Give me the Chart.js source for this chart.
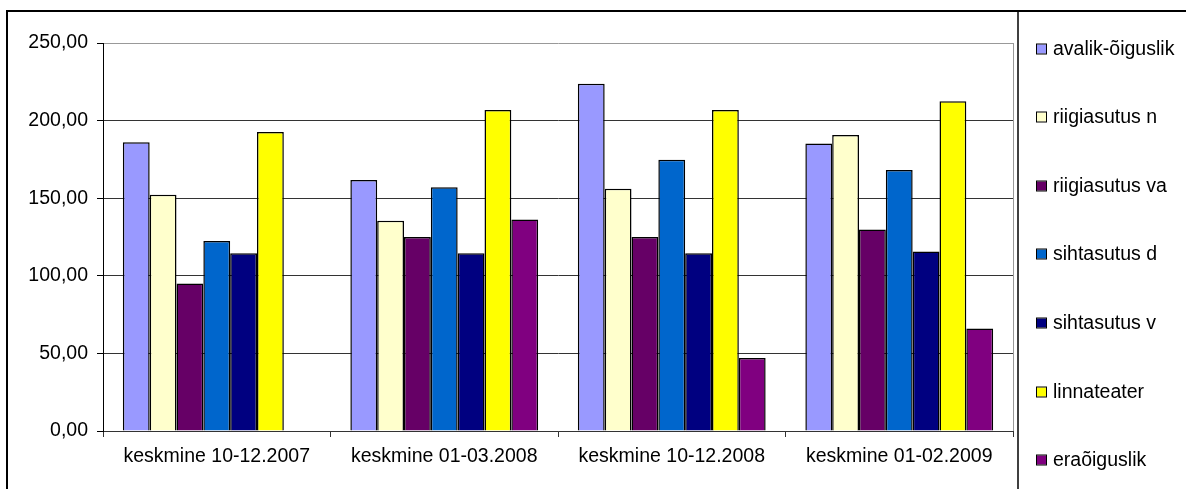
<!DOCTYPE html>
<html>
<head>
<meta charset="utf-8">
<script src="https://cdn.jsdelivr.net/npm/chart.js@4/dist/chart.umd.min.js"></script>
<style>
  html, body { margin: 0; padding: 0; background: #fff; }
  #wrap { width: 1186px; height: 489px; position: relative; }
  canvas { display: block; }
</style>
</head>
<body>
<div id="wrap"><canvas id="c" width="1186" height="489"></canvas></div>
<script>
// Period categories on the x axis
const categories = ['keskmine 10-12.2007', 'keskmine 01-03.2008', 'keskmine 10-12.2008', 'keskmine 01-02.2009'];

// Average values per institution type
const avalikOiguslik = [186.0, 161.7, 223.7, 185.2];
const riigiasutusN   = [152.3, 135.5, 156.1, 190.8];
const riigiasutusVa  = [95.0, 125.0, 125.0, 129.9];
const sihtasutusD    = [122.4, 157.0, 174.8, 168.2];
const sihtasutusV    = [114.6, 114.6, 114.6, 115.7];
const linnateater    = [192.7, 206.9, 206.9, 212.5];
const eraOiguslik    = [null, 136.3, 47.1, 66.0];

const seriesNames  = ['avalik-õiguslik', 'riigiasutus n', 'riigiasutus va', 'sihtasutus d', 'sihtasutus v', 'linnateater', 'eraõiguslik'];
const seriesValues = [avalikOiguslik, riigiasutusN, riigiasutusVa, sihtasutusD, sihtasutusV, linnateater, eraOiguslik];
const seriesColors = ['#9999FF', '#FFFFCC', '#660066', '#0066CC', '#000080', '#FFFF00', '#800080'];

// Value axis ticks
const yTicks = [0, 50, 100, 150, 200, 250];

const FONT = { family: '"Liberation Sans", Arial, sans-serif', size: 19.5 };

const fmt = v => v.toFixed(2).replace('.', ',');

// Outer frame, plot border and the boxed legend on the right
const framePlugin = {
  id: 'frame',
  afterDraw(chart) {
    const ctx = chart.ctx;
    const area = chart.chartArea;
    ctx.save();
    // right edge of the plot area
    ctx.strokeStyle = '#999';
    ctx.lineWidth = 1;
    ctx.beginPath();
    ctx.moveTo(Math.round(area.right) + 0.5, area.top);
    ctx.lineTo(Math.round(area.right) + 0.5, area.bottom);
    ctx.stroke();

    // outer frame (top and left) and legend divider
    ctx.strokeStyle = '#000';
    ctx.lineWidth = 2;
    ctx.beginPath();
    ctx.moveTo(7, 489);
    ctx.lineTo(7, 11);
    ctx.lineTo(1186, 11);
    ctx.stroke();
    ctx.lineWidth = 1.5;
    ctx.beginPath();
    ctx.moveTo(1018, 11);
    ctx.lineTo(1018, 489);
    ctx.stroke();

    // legend
    const top = 48.5, step = 68.6;
    ctx.font = FONT.size + 'px ' + FONT.family;
    ctx.textBaseline = 'middle';
    ctx.textAlign = 'left';
    chart.data.datasets.forEach((ds, i) => {
      const cy = Math.round(top + i * step);
      ctx.fillStyle = ds.backgroundColor;
      ctx.fillRect(1037, cy - 4.5, 9, 9);
      ctx.strokeStyle = '#000';
      ctx.lineWidth = 1;
      ctx.strokeRect(1036.5, cy - 5, 10, 10);
      ctx.fillStyle = '#000';
      ctx.fillText(ds.label, 1053, cy + 1);
    });
    ctx.restore();
  }
};

new Chart(document.getElementById('c'), {
  type: 'bar',
  data: {
    labels: categories,
    datasets: seriesNames.map((name, i) => ({
      label: name,
      data: seriesValues[i],
      backgroundColor: seriesColors[i],
      borderColor: '#000',
      borderWidth: 1.5,
      categoryPercentage: 0.8255,
      barPercentage: 1
    }))
  },
  options: {
    responsive: false,
    animation: false,
    devicePixelRatio: 1,
    layout: { padding: { left: 0, right: 173, top: 43, bottom: 0 } },
    plugins: { legend: { display: false }, tooltip: { enabled: false } },
    scales: {
      x: {
        grid: { offset: true, drawOnChartArea: false, tickLength: 6, tickColor: '#333', lineWidth: 1 },
        border: { color: '#333', width: 1 },
        ticks: { font: FONT, color: '#000', padding: 8, maxRotation: 0, autoSkip: false },
        afterFit(s) { s.height = 58; }
      },
      y: {
        min: 0,
        max: 250,
        afterBuildTicks(s) { s.ticks = yTicks.map(v => ({ value: v })); },
        grid: {
          color: c => (c.tick && c.tick.value === 250 ? '#999' : '#333'),
          tickColor: '#000',
          tickLength: 6,
          lineWidth: 1
        },
        border: { color: '#000', width: 1 },
        ticks: { font: FONT, color: '#000', padding: 9, callback: v => fmt(v) },
        afterFit(s) { s.width = 103; }
      }
    }
  },
  plugins: [framePlugin]
});
</script>
</body>
</html>
